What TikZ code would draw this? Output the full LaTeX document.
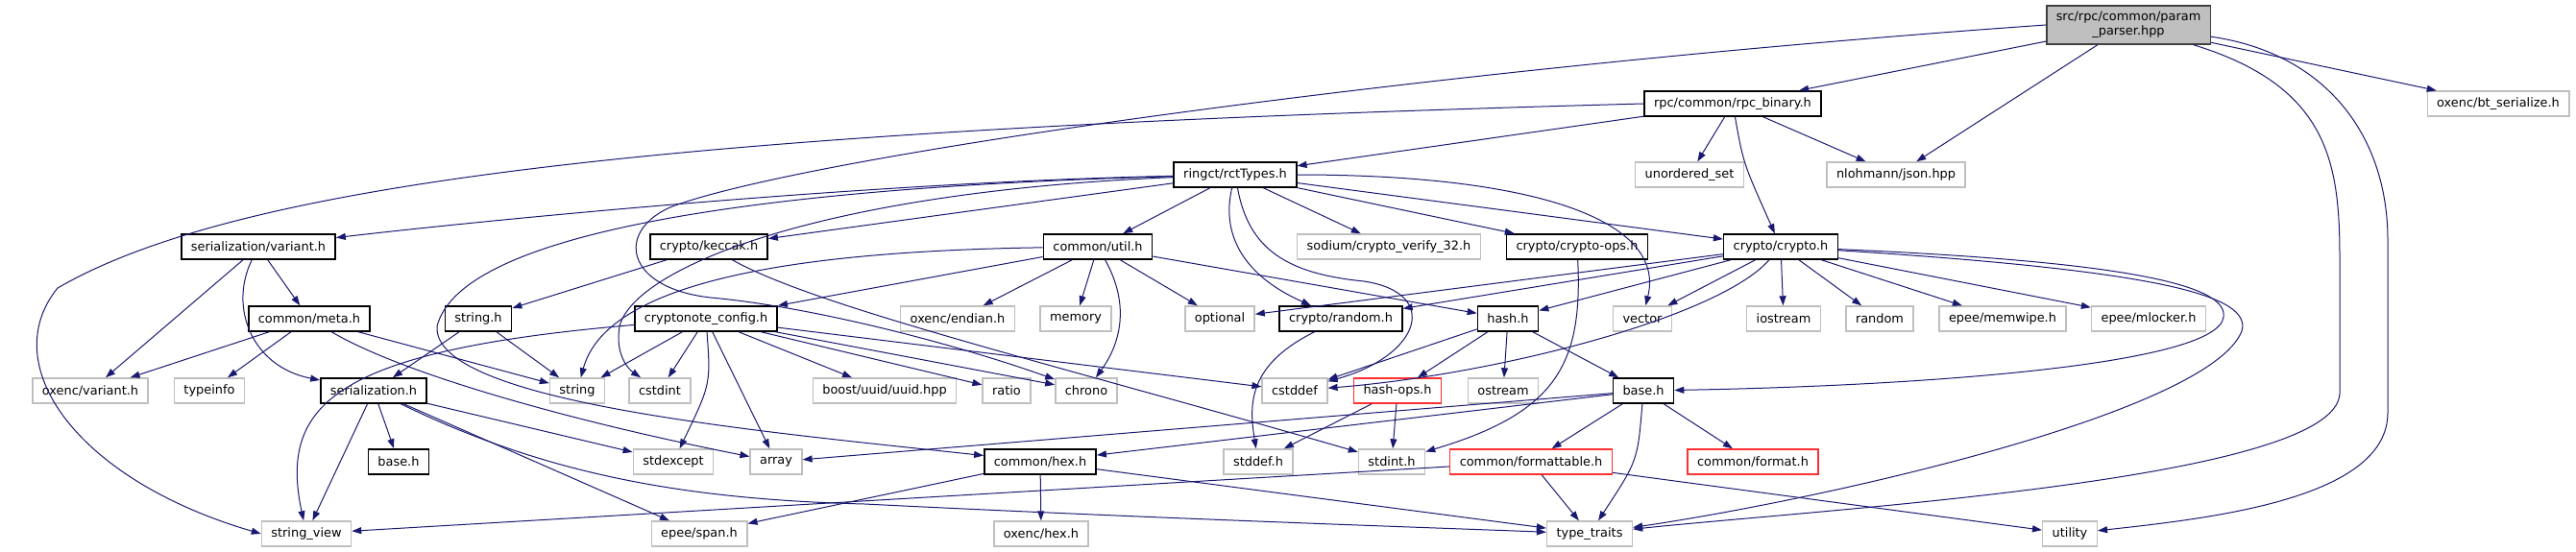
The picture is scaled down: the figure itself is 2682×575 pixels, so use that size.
\documentclass[tikz,border=0pt]{standalone}
\usepackage{fontspec}
\setmainfont{DejaVu Sans}
\usetikzlibrary{arrows.meta}
\definecolor{edgeblue}{HTML}{191970}
\definecolor{sysgray}{HTML}{BFBFBF}
\definecolor{rootline}{HTML}{404040}
\definecolor{truncred}{HTML}{FF3030}
\tikzset{
  box/.style={draw, fill=white, rectangle, minimum height=26pt, inner xsep=10pt, inner ysep=0pt,
    font=\fontsize{12.9}{15}\selectfont},
  docnode/.style={box, draw=black, line width=1.5pt},
  sysnode/.style={box, draw=sysgray, line width=1.4pt},
  trunc/.style={box, draw=truncred, line width=1.4pt},
  rootnode/.style={box, fill=sysgray, draw=rootline, line width=1.5pt, align=center, minimum height=40pt},
  dep/.style={draw=edgeblue, line width=1pt, -{Triangle[length=10pt,width=7pt]}, fill=none},
}
\begin{document}
\begin{tikzpicture}[x=1pt,y=1pt]
\useasboundingbox (0,0) rectangle (2682,-575);
% row 0 and 1
\node[rootnode] (root) at (2216,-26) {src/rpc/common/param\\\_parser.hpp};
\node[docnode] (rpcbin) at (1804,-108) {rpc/common/rpc\_binary.h};
\node[sysnode] (btser) at (2601,-108) {oxenc/bt\_serialize.h};
% row 2
\node[docnode] (rct) at (1286,-182) {ringct/rctTypes.h};
\node[sysnode] (uset) at (1759,-182) {unordered\_set};
\node[sysnode] (json) at (1974,-182) {nlohmann/json.hpp};
% row 3
\node[docnode] (svariant) at (269,-257) {serialization/variant.h};
\node[docnode] (keccak) at (738,-257) {crypto/keccak.h};
\node[docnode] (util) at (1143,-257) {common/util.h};
\node[sysnode] (sodium) at (1446,-257) {sodium/crypto\_verify\_32.h};
\node[docnode] (cops) at (1642,-257) {crypto/crypto-ops.h};
\node[docnode] (crypto) at (1854,-257) {crypto/crypto.h};
% row 4
\node[docnode] (meta) at (322,-332) {common/meta.h};
\node[docnode] (strh) at (498,-332) {string.h};
\node[docnode] (cfg) at (735,-332) {cryptonote\_config.h};
\node[sysnode] (endian) at (997,-332) {oxenc/endian.h};
\node[sysnode] (memory) at (1120,-332) {memory};
\node[sysnode] (optional) at (1270,-332) {optional};
\node[docnode] (rnd) at (1396,-332) {crypto/random.h};
\node[docnode] (hash) at (1570,-332) {hash.h};
\node[sysnode] (vector) at (1710,-332) {vector};
\node[sysnode] (iostream) at (1857,-332) {iostream};
\node[sysnode] (random) at (1957,-332) {random};
\node[sysnode] (memwipe) at (2085,-332) {epee/memwipe.h};
\node[sysnode] (mlocker) at (2237,-332) {epee/mlocker.h};
% row 5
\node[sysnode] (ovariant) at (94,-407) {oxenc/variant.h};
\node[sysnode] (typeinfo) at (218,-407) {typeinfo};
\node[docnode] (ser) at (389,-407) {serialization.h};
\node[sysnode] (string) at (601,-407) {string};
\node[sysnode] (cstdint) at (687,-407) {cstdint};
\node[sysnode] (uuid) at (921,-407) {boost/uuid/uuid.hpp};
\node[sysnode] (ratio) at (1048,-407) {ratio};
\node[sysnode] (chrono) at (1131,-407) {chrono};
\node[sysnode] (cstddef) at (1348,-407) {cstddef};
\node[trunc] (hashops) at (1455,-407) {hash-ops.h};
\node[sysnode] (ostream) at (1565,-407) {ostream};
\node[docnode] (cbase) at (1711,-407) {base.h};
% row 6
\node[docnode] (sbase) at (415,-481) {base.h};
\node[sysnode] (stdexcept) at (701,-481) {stdexcept};
\node[sysnode] (array) at (808,-481) {array};
\node[docnode] (hex) at (1083,-481) {common/hex.h};
\node[sysnode] (stddef) at (1310,-481) {stddef.h};
\node[sysnode] (stdint) at (1449,-481) {stdint.h};
\node[trunc] (fmtable) at (1594,-481) {common/formattable.h};
\node[trunc] (format) at (1825,-481) {common/format.h};
% row 7
\node[sysnode] (strview) at (319,-556) {string\_view};
\node[sysnode] (span) at (728,-556) {epee/span.h};
\node[sysnode] (ohex) at (1084,-556) {oxenc/hex.h};
\node[sysnode] (traits) at (1655,-556) {type\_traits};
\node[sysnode] (utility) at (2155,-556) {utility};

% param_parser.hpp
\draw[dep] (root) -- (rpcbin);
\draw[dep] (root) -- (json);
\draw[dep] (root) -- (btser);
\draw[dep] (root) .. controls (2425,-90) and (2436,-170) .. (2436,-270) -- (2436,-410) .. controls (2432,-500) and (1900,-530) .. (traits);
\draw[dep] (root) .. controls (2420,-55) and (2486,-140) .. (2486,-250) -- (2486,-430) .. controls (2486,-520) and (2300,-540) .. (utility);
\draw[dep] (root.west) .. controls (1500,-70) and (850,-160) .. (700,-215) .. controls (640,-240) and (650,-300) .. (740,-310) .. controls (850,-320) and (1000,-360) .. (chrono);
% rpc_binary.h
\draw[dep] (rpcbin) -- (rct);
\draw[dep] (rpcbin) -- (uset);
\draw[dep] (rpcbin) -- (json);
\draw[dep] (rpcbin) .. controls (1815,-170) .. (crypto);
\draw[dep] (rpcbin.west) .. controls (700,-135) and (250,-190) .. (60,-300) .. controls (-5,-380) and (80,-500) .. (strview.west);
% rctTypes.h
\draw[dep] (rct) .. controls (900,-190) and (500,-230) .. (svariant);
\draw[dep] (rct) -- (keccak);
\draw[dep] (rct) -- (util);
\draw[dep] (rct) -- (sodium);
\draw[dep] (rct) -- (cops);
\draw[dep] (rct) -- (crypto);
\draw[dep] (rct) .. controls (1600,-182) and (1735,-230) .. (vector);
\draw[dep] (rct) .. controls (1272,-240) and (1290,-285) .. (rnd);
\draw[dep] (rct) .. controls (1300,-260) and (1340,-285) .. (1420,-293) .. controls (1500,-305) and (1480,-370) .. (cstddef);
\draw[dep] (rct) .. controls (800,-195) and (480,-240) .. (455,-340) .. controls (450,-420) and (800,-450) .. (hex);
\draw[dep] (rct) .. controls (850,-200) and (660,-280) .. (645,-340) .. controls (640,-370) and (655,-385) .. (cstdint);
% row 3 sources
\draw[dep] (svariant) -- (ovariant);
\draw[dep] (svariant) .. controls (238,-320) and (262,-382) .. (ser);
\draw[dep] (svariant) -- (meta);
\draw[dep] (keccak) -- (strh);
\draw[dep] (keccak) .. controls (850,-320) and (1100,-380) .. (stdint);
\draw[dep] (util) -- (cfg);
\draw[dep] (util) -- (endian);
\draw[dep] (util) -- (memory);
\draw[dep] (util) -- (optional);
\draw[dep] (util) .. controls (1178,-320) and (1165,-360) .. (chrono);
\draw[dep] (util) -- (hash);
\draw[dep] (util) .. controls (800,-262) and (630,-300) .. (string);
\draw[dep] (cops) .. controls (1648,-380) and (1620,-430) .. (stdint);
% crypto.h
\draw[dep] (crypto) -- (optional);
\draw[dep] (crypto) -- (rnd);
\draw[dep] (crypto) -- (hash);
\draw[dep] (crypto) -- (vector);
\draw[dep] (crypto) .. controls (1790,-330) and (1560,-390) .. (cstddef);
\draw[dep] (crypto) -- (iostream);
\draw[dep] (crypto) -- (random);
\draw[dep] (crypto) -- (memwipe);
\draw[dep] (crypto) -- (mlocker);
\draw[dep] (crypto) .. controls (2200,-272) and (2320,-295) .. (2315,-330) .. controls (2310,-380) and (2000,-402) .. (cbase);
\draw[dep] (crypto) .. controls (2250,-282) and (2345,-308) .. (2334,-345) .. controls (2300,-430) and (1900,-520) .. (traits);
% row 4 sources
\draw[dep] (meta) -- (ovariant);
\draw[dep] (meta) -- (typeinfo);
\draw[dep] (meta) -- (string);
\draw[dep] (meta) .. controls (420,-390) and (600,-440) .. (array);
\draw[dep] (strh) -- (ser);
\draw[dep] (strh) -- (string);
\draw[dep] (cfg) .. controls (350,-365) and (290,-420) .. (strview);
\draw[dep] (cfg) -- (string);
\draw[dep] (cfg) -- (cstdint);
\draw[dep] (cfg) .. controls (740,-400) .. (stdexcept);
\draw[dep] (cfg) -- (array);
\draw[dep] (cfg) -- (uuid);
\draw[dep] (cfg) -- (ratio);
\draw[dep] (cfg) -- (chrono);
\draw[dep] (cfg) -- (cstddef);
\draw[dep] (rnd) .. controls (1300,-380) and (1300,-420) .. (stddef);
\draw[dep] (hash) -- (cstddef);
\draw[dep] (hash) -- (hashops);
\draw[dep] (hash) -- (ostream);
\draw[dep] (hash) -- (cbase);
% row 5 sources
\draw[dep] (ser) -- (strview);
\draw[dep] (ser) -- (sbase);
\draw[dep] (ser) -- (span);
\draw[dep] (ser) -- (stdexcept);
\draw[dep] (ser) .. controls (560,-490) and (700,-520) .. (900,-525) .. controls (1200,-540) and (1500,-550) .. (traits);
\draw[dep] (hashops) -- (stddef);
\draw[dep] (hashops) -- (stdint);
\draw[dep] (cbase) -- (array);
\draw[dep] (cbase) -- (hex);
\draw[dep] (cbase) -- (fmtable);
\draw[dep] (cbase) -- (format);
\draw[dep] (cbase) .. controls (1705,-480) .. (traits);
% row 6 sources
\draw[dep] (hex) -- (ohex);
\draw[dep] (hex) -- (span);
\draw[dep] (hex) -- (traits);
\draw[dep] (fmtable) -- (strview);
\draw[dep] (fmtable) -- (traits);
\draw[dep] (fmtable) -- (utility);
\end{tikzpicture}
\end{document}
